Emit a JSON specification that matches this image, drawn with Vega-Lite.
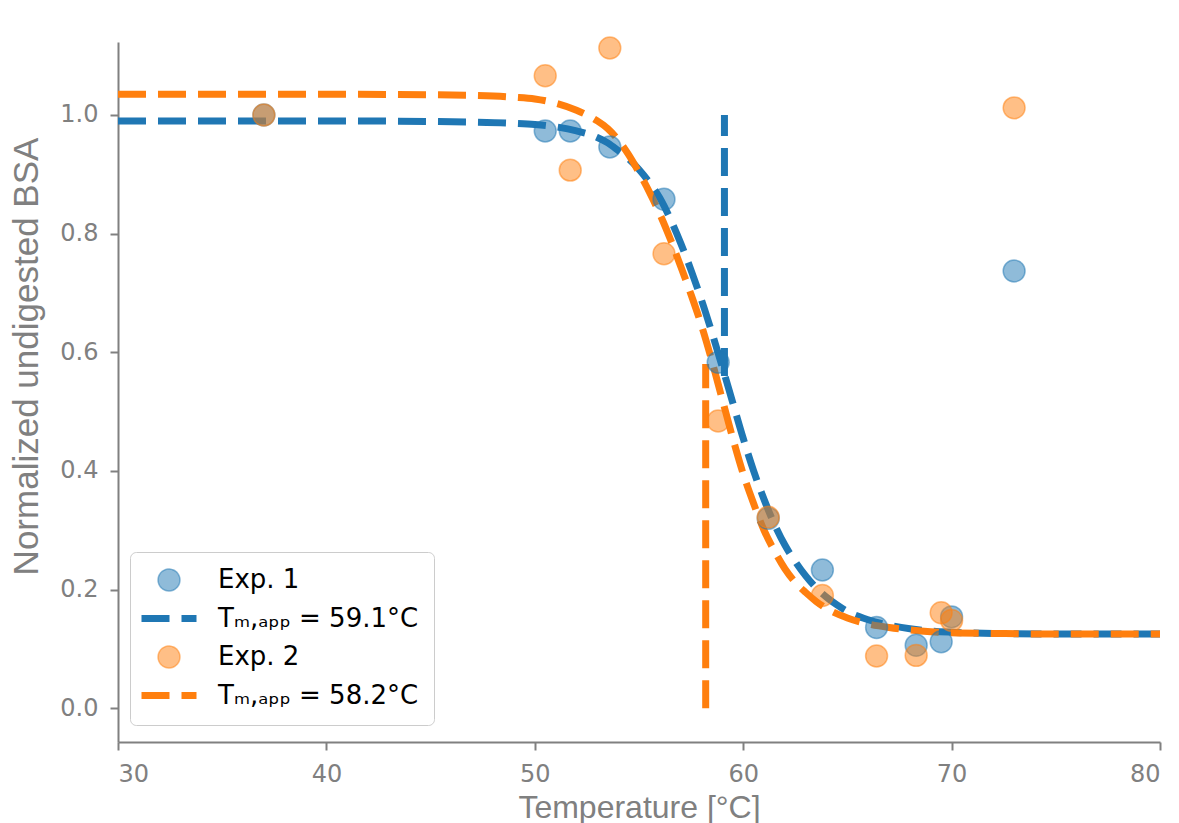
{
  "$schema": "https://vega.github.io/schema/vega-lite/v6.json",
  "width": 1042,
  "height": 700,
  "autosize": {"type": "none"},
  "padding": {"left": 118, "top": 42, "right": 19, "bottom": 81},
  "background": "white",
  "config": {
    "view": {"stroke": null},
    "axis": {
      "grid": false,
      "domainColor": "#808080",
      "domainWidth": 2,
      "tickColor": "#808080",
      "tickWidth": 2,
      "tickSize": 8,
      "labelColor": "#808080",
      "labelFont": "DejaVu Sans",
      "labelFontSize": 24,
      "titleColor": "#808080",
      "titleFont": "Liberation Sans",
      "titleFontWeight": "normal"
    },
    "legend": {
      "labelFont": "DejaVu Sans",
      "labelFontSize": 26,
      "labelColor": "black",
      "labelLimit": 400,
      "symbolSize": 3025,
      "symbolStrokeWidth": 7,
      "symbolOffset": 11,
      "padding": 15,
      "rowPadding": 10.5,
      "labelOffset": 36,
      "strokeColor": "#cccccc",
      "fillColor": "rgba(255,255,255,0.8)",
      "cornerRadius": 6
    }
  },
  "data": {
    "values": [
      {"kind": "pt", "T": 37.0, "y": 1.0, "series": "Exp. 1"},
      {"kind": "pt", "T": 50.5, "y": 0.973, "series": "Exp. 1"},
      {"kind": "pt", "T": 51.7, "y": 0.973, "series": "Exp. 1"},
      {"kind": "pt", "T": 53.6, "y": 0.946, "series": "Exp. 1"},
      {"kind": "pt", "T": 56.2, "y": 0.858, "series": "Exp. 1"},
      {"kind": "pt", "T": 58.8, "y": 0.583, "series": "Exp. 1"},
      {"kind": "pt", "T": 61.2, "y": 0.32, "series": "Exp. 1"},
      {"kind": "pt", "T": 63.8, "y": 0.233, "series": "Exp. 1"},
      {"kind": "pt", "T": 66.4, "y": 0.136, "series": "Exp. 1"},
      {"kind": "pt", "T": 68.3, "y": 0.106, "series": "Exp. 1"},
      {"kind": "pt", "T": 69.5, "y": 0.112, "series": "Exp. 1"},
      {"kind": "pt", "T": 70.0, "y": 0.154, "series": "Exp. 1"},
      {"kind": "pt", "T": 73.0, "y": 0.737, "series": "Exp. 1"},
      {"kind": "pt", "T": 37.0, "y": 1.0, "series": "Exp. 2"},
      {"kind": "pt", "T": 50.5, "y": 1.066, "series": "Exp. 2"},
      {"kind": "pt", "T": 51.7, "y": 0.907, "series": "Exp. 2"},
      {"kind": "pt", "T": 53.6, "y": 1.113, "series": "Exp. 2"},
      {"kind": "pt", "T": 56.2, "y": 0.766, "series": "Exp. 2"},
      {"kind": "pt", "T": 58.8, "y": 0.484, "series": "Exp. 2"},
      {"kind": "pt", "T": 61.2, "y": 0.322, "series": "Exp. 2"},
      {"kind": "pt", "T": 63.8, "y": 0.19, "series": "Exp. 2"},
      {"kind": "pt", "T": 66.4, "y": 0.088, "series": "Exp. 2"},
      {"kind": "pt", "T": 68.3, "y": 0.089, "series": "Exp. 2"},
      {"kind": "pt", "T": 69.5, "y": 0.161, "series": "Exp. 2"},
      {"kind": "pt", "T": 70.0, "y": 0.148, "series": "Exp. 2"},
      {"kind": "pt", "T": 73.0, "y": 1.012, "series": "Exp. 2"},
      {"kind": "fit1", "T": 30, "y": 0.990, "series": "Tₘ,ₐₚₚ = 59.1°C"},
      {"kind": "fit1", "T": 35, "y": 0.990, "series": "Tₘ,ₐₚₚ = 59.1°C"},
      {"kind": "fit1", "T": 40, "y": 0.990, "series": "Tₘ,ₐₚₚ = 59.1°C"},
      {"kind": "fit1", "T": 45, "y": 0.989, "series": "Tₘ,ₐₚₚ = 59.1°C"},
      {"kind": "fit1", "T": 47, "y": 0.988, "series": "Tₘ,ₐₚₚ = 59.1°C"},
      {"kind": "fit1", "T": 49, "y": 0.986, "series": "Tₘ,ₐₚₚ = 59.1°C"},
      {"kind": "fit1", "T": 50, "y": 0.984, "series": "Tₘ,ₐₚₚ = 59.1°C"},
      {"kind": "fit1", "T": 51, "y": 0.980, "series": "Tₘ,ₐₚₚ = 59.1°C"},
      {"kind": "fit1", "T": 52, "y": 0.973, "series": "Tₘ,ₐₚₚ = 59.1°C"},
      {"kind": "fit1", "T": 53, "y": 0.962, "series": "Tₘ,ₐₚₚ = 59.1°C"},
      {"kind": "fit1", "T": 53.5, "y": 0.953, "series": "Tₘ,ₐₚₚ = 59.1°C"},
      {"kind": "fit1", "T": 54, "y": 0.940, "series": "Tₘ,ₐₚₚ = 59.1°C"},
      {"kind": "fit1", "T": 54.5, "y": 0.926, "series": "Tₘ,ₐₚₚ = 59.1°C"},
      {"kind": "fit1", "T": 55, "y": 0.908, "series": "Tₘ,ₐₚₚ = 59.1°C"},
      {"kind": "fit1", "T": 55.5, "y": 0.886, "series": "Tₘ,ₐₚₚ = 59.1°C"},
      {"kind": "fit1", "T": 56, "y": 0.860, "series": "Tₘ,ₐₚₚ = 59.1°C"},
      {"kind": "fit1", "T": 56.5, "y": 0.825, "series": "Tₘ,ₐₚₚ = 59.1°C"},
      {"kind": "fit1", "T": 57, "y": 0.784, "series": "Tₘ,ₐₚₚ = 59.1°C"},
      {"kind": "fit1", "T": 57.5, "y": 0.738, "series": "Tₘ,ₐₚₚ = 59.1°C"},
      {"kind": "fit1", "T": 58, "y": 0.688, "series": "Tₘ,ₐₚₚ = 59.1°C"},
      {"kind": "fit1", "T": 58.5, "y": 0.633, "series": "Tₘ,ₐₚₚ = 59.1°C"},
      {"kind": "fit1", "T": 59, "y": 0.575, "series": "Tₘ,ₐₚₚ = 59.1°C"},
      {"kind": "fit1", "T": 59.5, "y": 0.515, "series": "Tₘ,ₐₚₚ = 59.1°C"},
      {"kind": "fit1", "T": 60, "y": 0.455, "series": "Tₘ,ₐₚₚ = 59.1°C"},
      {"kind": "fit1", "T": 60.5, "y": 0.400, "series": "Tₘ,ₐₚₚ = 59.1°C"},
      {"kind": "fit1", "T": 61, "y": 0.352, "series": "Tₘ,ₐₚₚ = 59.1°C"},
      {"kind": "fit1", "T": 61.5, "y": 0.310, "series": "Tₘ,ₐₚₚ = 59.1°C"},
      {"kind": "fit1", "T": 62, "y": 0.275, "series": "Tₘ,ₐₚₚ = 59.1°C"},
      {"kind": "fit1", "T": 62.5, "y": 0.247, "series": "Tₘ,ₐₚₚ = 59.1°C"},
      {"kind": "fit1", "T": 63, "y": 0.223, "series": "Tₘ,ₐₚₚ = 59.1°C"},
      {"kind": "fit1", "T": 63.5, "y": 0.203, "series": "Tₘ,ₐₚₚ = 59.1°C"},
      {"kind": "fit1", "T": 64, "y": 0.187, "series": "Tₘ,ₐₚₚ = 59.1°C"},
      {"kind": "fit1", "T": 64.5, "y": 0.174, "series": "Tₘ,ₐₚₚ = 59.1°C"},
      {"kind": "fit1", "T": 65, "y": 0.163, "series": "Tₘ,ₐₚₚ = 59.1°C"},
      {"kind": "fit1", "T": 66, "y": 0.149, "series": "Tₘ,ₐₚₚ = 59.1°C"},
      {"kind": "fit1", "T": 67, "y": 0.140, "series": "Tₘ,ₐₚₚ = 59.1°C"},
      {"kind": "fit1", "T": 68, "y": 0.134, "series": "Tₘ,ₐₚₚ = 59.1°C"},
      {"kind": "fit1", "T": 69, "y": 0.130, "series": "Tₘ,ₐₚₚ = 59.1°C"},
      {"kind": "fit1", "T": 70, "y": 0.128, "series": "Tₘ,ₐₚₚ = 59.1°C"},
      {"kind": "fit1", "T": 72, "y": 0.126, "series": "Tₘ,ₐₚₚ = 59.1°C"},
      {"kind": "fit1", "T": 75, "y": 0.125, "series": "Tₘ,ₐₚₚ = 59.1°C"},
      {"kind": "fit1", "T": 80, "y": 0.125, "series": "Tₘ,ₐₚₚ = 59.1°C"},
      {"kind": "fit2", "T": 30, "y": 1.035, "series": "Tₘ,ₐₚₚ = 58.2°C"},
      {"kind": "fit2", "T": 35, "y": 1.035, "series": "Tₘ,ₐₚₚ = 58.2°C"},
      {"kind": "fit2", "T": 40, "y": 1.035, "series": "Tₘ,ₐₚₚ = 58.2°C"},
      {"kind": "fit2", "T": 45, "y": 1.034, "series": "Tₘ,ₐₚₚ = 58.2°C"},
      {"kind": "fit2", "T": 47, "y": 1.033, "series": "Tₘ,ₐₚₚ = 58.2°C"},
      {"kind": "fit2", "T": 49, "y": 1.030, "series": "Tₘ,ₐₚₚ = 58.2°C"},
      {"kind": "fit2", "T": 50, "y": 1.027, "series": "Tₘ,ₐₚₚ = 58.2°C"},
      {"kind": "fit2", "T": 51, "y": 1.020, "series": "Tₘ,ₐₚₚ = 58.2°C"},
      {"kind": "fit2", "T": 52, "y": 1.008, "series": "Tₘ,ₐₚₚ = 58.2°C"},
      {"kind": "fit2", "T": 53, "y": 0.990, "series": "Tₘ,ₐₚₚ = 58.2°C"},
      {"kind": "fit2", "T": 53.5, "y": 0.977, "series": "Tₘ,ₐₚₚ = 58.2°C"},
      {"kind": "fit2", "T": 54, "y": 0.958, "series": "Tₘ,ₐₚₚ = 58.2°C"},
      {"kind": "fit2", "T": 54.5, "y": 0.933, "series": "Tₘ,ₐₚₚ = 58.2°C"},
      {"kind": "fit2", "T": 55, "y": 0.903, "series": "Tₘ,ₐₚₚ = 58.2°C"},
      {"kind": "fit2", "T": 55.5, "y": 0.870, "series": "Tₘ,ₐₚₚ = 58.2°C"},
      {"kind": "fit2", "T": 56, "y": 0.833, "series": "Tₘ,ₐₚₚ = 58.2°C"},
      {"kind": "fit2", "T": 56.5, "y": 0.791, "series": "Tₘ,ₐₚₚ = 58.2°C"},
      {"kind": "fit2", "T": 57, "y": 0.745, "series": "Tₘ,ₐₚₚ = 58.2°C"},
      {"kind": "fit2", "T": 57.5, "y": 0.697, "series": "Tₘ,ₐₚₚ = 58.2°C"},
      {"kind": "fit2", "T": 58, "y": 0.645, "series": "Tₘ,ₐₚₚ = 58.2°C"},
      {"kind": "fit2", "T": 58.5, "y": 0.585, "series": "Tₘ,ₐₚₚ = 58.2°C"},
      {"kind": "fit2", "T": 59, "y": 0.520, "series": "Tₘ,ₐₚₚ = 58.2°C"},
      {"kind": "fit2", "T": 59.5, "y": 0.455, "series": "Tₘ,ₐₚₚ = 58.2°C"},
      {"kind": "fit2", "T": 60, "y": 0.395, "series": "Tₘ,ₐₚₚ = 58.2°C"},
      {"kind": "fit2", "T": 60.5, "y": 0.345, "series": "Tₘ,ₐₚₚ = 58.2°C"},
      {"kind": "fit2", "T": 61, "y": 0.300, "series": "Tₘ,ₐₚₚ = 58.2°C"},
      {"kind": "fit2", "T": 61.5, "y": 0.265, "series": "Tₘ,ₐₚₚ = 58.2°C"},
      {"kind": "fit2", "T": 62, "y": 0.235, "series": "Tₘ,ₐₚₚ = 58.2°C"},
      {"kind": "fit2", "T": 62.5, "y": 0.212, "series": "Tₘ,ₐₚₚ = 58.2°C"},
      {"kind": "fit2", "T": 63, "y": 0.195, "series": "Tₘ,ₐₚₚ = 58.2°C"},
      {"kind": "fit2", "T": 63.5, "y": 0.180, "series": "Tₘ,ₐₚₚ = 58.2°C"},
      {"kind": "fit2", "T": 64, "y": 0.168, "series": "Tₘ,ₐₚₚ = 58.2°C"},
      {"kind": "fit2", "T": 65, "y": 0.152, "series": "Tₘ,ₐₚₚ = 58.2°C"},
      {"kind": "fit2", "T": 66, "y": 0.142, "series": "Tₘ,ₐₚₚ = 58.2°C"},
      {"kind": "fit2", "T": 67, "y": 0.136, "series": "Tₘ,ₐₚₚ = 58.2°C"},
      {"kind": "fit2", "T": 68, "y": 0.132, "series": "Tₘ,ₐₚₚ = 58.2°C"},
      {"kind": "fit2", "T": 69, "y": 0.129, "series": "Tₘ,ₐₚₚ = 58.2°C"},
      {"kind": "fit2", "T": 70, "y": 0.127, "series": "Tₘ,ₐₚₚ = 58.2°C"},
      {"kind": "fit2", "T": 72, "y": 0.126, "series": "Tₘ,ₐₚₚ = 58.2°C"},
      {"kind": "fit2", "T": 75, "y": 0.125, "series": "Tₘ,ₐₚₚ = 58.2°C"},
      {"kind": "fit2", "T": 80, "y": 0.125, "series": "Tₘ,ₐₚₚ = 58.2°C"},
      {"kind": "vl1", "T": 59.1, "y": 0.56, "y2": 1.0, "series": "Tₘ,ₐₚₚ = 59.1°C"},
      {"kind": "vl2", "T": 58.2, "y": 0.0, "y2": 0.58, "series": "Tₘ,ₐₚₚ = 58.2°C"}
    ]
  },
  "encoding": {
    "x": {
      "field": "T", "type": "quantitative",
      "scale": {"domain": [30, 80], "nice": false, "zero": false},
      "axis": {
        "orient": "bottom",
        "values": [30, 40, 50, 60, 70, 80], "format": "d",
        "labelPadding": 12,
        "title": "Temperature [°C]", "titleFontSize": 32,
        "titleY": 75, "titleBaseline": "alphabetic"
      }
    },
    "y": {
      "field": "y", "type": "quantitative",
      "scale": {"domain": [-0.057, 1.123], "nice": false, "zero": false},
      "axis": {
        "orient": "left",
        "values": [0, 0.2, 0.4, 0.6, 0.8, 1.0], "format": ".1f",
        "labelPadding": 12,
        "title": "Normalized undigested BSA", "titleFontSize": 35,
        "titleX": -81, "titleY": 314, "titleBaseline": "alphabetic"
      }
    },
    "color": {
      "field": "series", "type": "nominal",
      "scale": {
        "domain": ["Exp. 1", "Tₘ,ₐₚₚ = 59.1°C", "Exp. 2", "Tₘ,ₐₚₚ = 58.2°C"],
        "range": ["#1f77b4", "#1f77b4", "#ff7f0e", "#ff7f0e"]
      },
      "legend": {
        "title": null,
        "orient": "none",
        "legendX": 12,
        "legendY": 510,
        "encode": {
          "symbols": {
            "update": {
              "shape": {"signal": "datum.value === 'Exp. 1' || datum.value === 'Exp. 2' ? 'circle' : 'stroke'"},
              "size": {"signal": "datum.value === 'Exp. 1' || datum.value === 'Exp. 2' ? 480 : 3025"},
              "strokeDash": {"signal": "datum.value === 'Exp. 1' || datum.value === 'Exp. 2' ? [1, 0] : [28, 12]"},
              "strokeWidth": {"signal": "datum.value === 'Exp. 1' || datum.value === 'Exp. 2' ? 1.5 : 7"},
              "opacity": {"value": 1},
              "fillOpacity": {"signal": "datum.value === 'Exp. 1' || datum.value === 'Exp. 2' ? 0.5 : 0"},
              "strokeOpacity": {"signal": "datum.value === 'Exp. 1' || datum.value === 'Exp. 2' ? 0.5 : 1"},
              "fill": {"signal": "datum.value === 'Exp. 1' ? '#1f77b4' : '#ff7f0e'"},
              "stroke": {"signal": "datum.value === 'Exp. 1' || datum.value === 'Tₘ,ₐₚₚ = 59.1°C' ? '#1f77b4' : '#ff7f0e'"}
            }
          }
        }
      }
    }
  },
  "layer": [
    {
      "transform": [{"filter": "datum.kind === 'fit1'"}],
      "mark": {"type": "line", "strokeWidth": 7, "strokeDash": [28, 12], "interpolate": "monotone"}
    },
    {
      "transform": [{"filter": "datum.kind === 'vl1'"}],
      "mark": {"type": "rule", "strokeWidth": 7, "strokeDash": [28, 12]},
      "encoding": {"y2": {"field": "y2"}}
    },
    {
      "transform": [{"filter": "datum.kind === 'fit2'"}],
      "mark": {"type": "line", "strokeWidth": 7, "strokeDash": [28, 12], "interpolate": "monotone"}
    },
    {
      "transform": [{"filter": "datum.kind === 'vl2'"}],
      "mark": {"type": "rule", "strokeWidth": 7, "strokeDash": [28, 12]},
      "encoding": {"y2": {"field": "y2"}}
    },
    {
      "transform": [{"filter": "datum.kind === 'pt' && datum.series === 'Exp. 1'"}],
      "mark": {"type": "point", "shape": "circle", "filled": true, "size": 480, "stroke": "#1f77b4", "strokeWidth": 1.5, "opacity": 1, "fillOpacity": 0.5, "strokeOpacity": 0.5}
    },
    {
      "transform": [{"filter": "datum.kind === 'pt' && datum.series === 'Exp. 2'"}],
      "mark": {"type": "point", "shape": "circle", "filled": true, "size": 480, "stroke": "#ff7f0e", "strokeWidth": 1.5, "opacity": 1, "fillOpacity": 0.5, "strokeOpacity": 0.5}
    }
  ]
}
